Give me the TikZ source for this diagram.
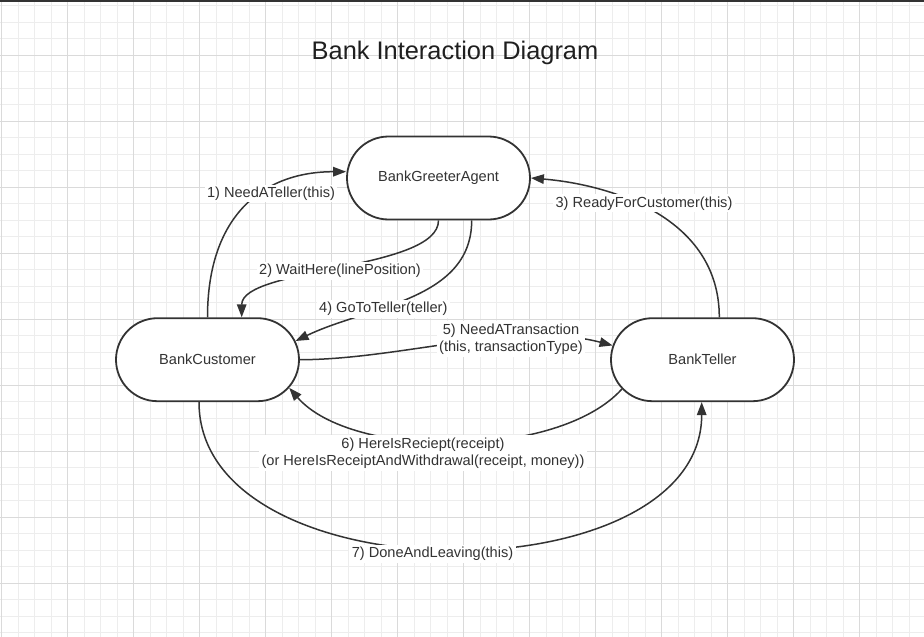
\documentclass[tikz,border=0pt]{standalone}
\usepackage{fontspec}
\setmainfont{Liberation Sans}
\usetikzlibrary{shapes.misc,arrows.meta}
\definecolor{ink}{HTML}{333333}
\definecolor{gridminor}{HTML}{EDEDED}
\definecolor{gridmajor}{HTML}{DADADA}
\begin{document}
\begin{tikzpicture}[x=1pt,y=-1pt,
  state/.style={rounded rectangle, draw=ink, line width=1.8pt, fill=white,
    minimum width=183pt, minimum height=83pt, inner sep=0pt, text=ink,
    font=\fontsize{14.6}{17.5}\selectfont},
  conn/.style={draw=ink, line width=1.5pt, -{Triangle[length=13pt,width=9.5pt]}},
  lbl/.style={fill=white, text=ink, inner xsep=2.5pt, inner ysep=2pt, align=center,
    font=\fontsize{14.6}{17.5}\selectfont},
  minorline/.style={draw=gridminor, line width=1pt},
  majorline/.style={draw=gridmajor, line width=1pt}]
\useasboundingbox (0,0) rectangle (924,637);
\fill[white] (0,0) rectangle (924,637);
% grid
\foreach \i in {0,...,55} \draw[minorline] ({1.7+16.5*\i},0) -- ({1.7+16.5*\i},637);
\foreach \i in {0,...,38} \draw[minorline] (0,{5.8+16.5*\i}) -- (924,{5.8+16.5*\i});
\foreach \i in {0,...,13} \draw[majorline] ({1.7+66*\i},0) -- ({1.7+66*\i},637);
\foreach \i in {1,...,9} \draw[majorline] (0,{-10.7+66*\i}) -- (924,{-10.7+66*\i});
\fill[ink] (0,0) rectangle (924,1.8);
% title
\node[font=\fontsize{25.4}{30}\selectfont, text=black!88, anchor=base, inner sep=0pt] (title) at (455,59.4) {Bank Interaction Diagram};
% states
\node[state] (greet) at (438.5,178) {BankGreeterAgent};
\node[state] (cust) at (207.5,359.7) {BankCustomer};
\node[state] (tell) at (702.5,359.7) {BankTeller};
% connectors
\draw[conn] (cust.north) .. controls +(0,-103) and +(-82,0) .. ([yshift=6.3pt]greet.west);
\draw[conn] (greet.south) .. controls +(0,50) and +(0,-50) .. ([xshift=34.2pt]cust.north);
\draw[conn] ([xshift=16.8pt]tell.north) .. controls +(0,-100) and +(80,6.7) .. (greet.east);
\draw[conn] ([xshift=33.2pt]greet.south) .. controls +(0,80) and +(72,-34.8) .. (cust.12.7);
\draw[conn] (cust.east) .. controls +(100,0) and +(-95,-25) .. (tell.171.8);
\draw[conn] (tell.200.6) .. controls +(-63.5,70.6) and +(62.3,71.9) .. (cust.-19.5);
\draw[conn] ([xshift=-8.5pt]cust.south) .. controls +(0,196) and +(0,196) .. ([xshift=-0.8pt]tell.south);
% labels
\node[lbl] (l1) at (271,193.3) {1) NeedATeller(this)};
\node[lbl] (l2) at (340,270.7) {2) WaitHere(linePosition)};
\node[lbl] (l3) at (644,203.3) {3) ReadyForCustomer(this)};
\node[lbl] (l4) at (383.3,309) {4) GoToTeller(teller)};
\node[lbl] (l5) at (511,339) {5) NeedATransaction\\(this, transactionType)};
\node[lbl] (l6) at (423,453) {6) HereIsReciept(receipt)\\(or HereIsReceiptAndWithdrawal(receipt, money))};
\node[lbl] (l7) at (432.5,554) {7) DoneAndLeaving(this)};
\end{tikzpicture}
\end{document}
